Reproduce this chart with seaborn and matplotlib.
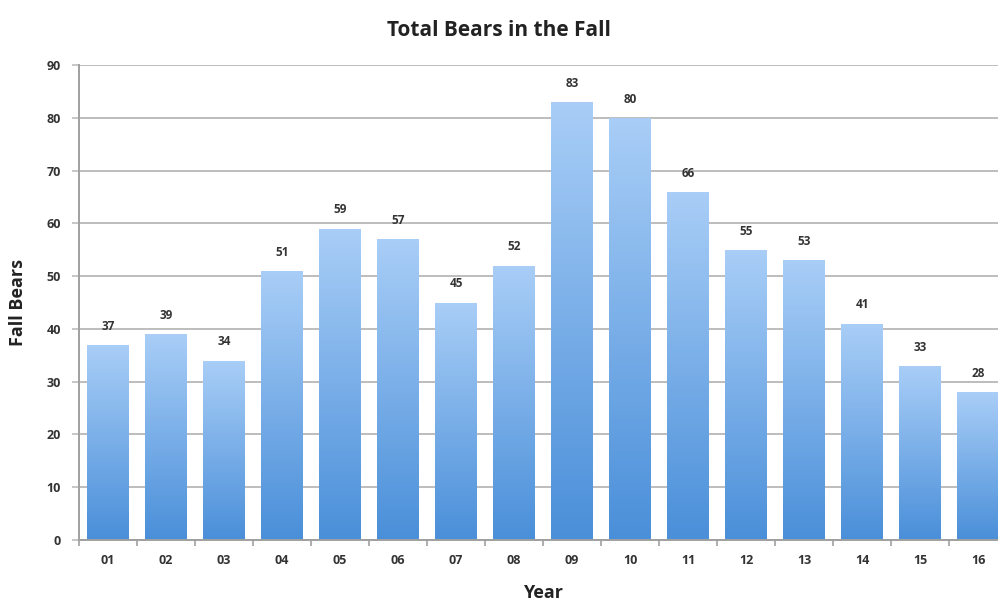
import numpy as np
import pandas as pd
import matplotlib
matplotlib.use("Agg")
import matplotlib.pyplot as plt
import seaborn as sns
from matplotlib.colors import LinearSegmentedColormap

years = ["01", "02", "03", "04", "05", "06", "07", "08",
         "09", "10", "11", "12", "13", "14", "15", "16"]
bears = [37, 39, 34, 51, 59, 57, 45, 52, 83, 80, 66, 55, 53, 41, 33, 28]
yticks = [0, 10, 20, 30, 40, 50, 60, 70, 80, 90]

sns.set_theme(style="white")
plt.rcParams['font.family'] = ['Open Sans', 'DejaVu Sans']

df = pd.DataFrame({"Year": years, "Fall Bears": bears})

fig = plt.figure(figsize=(9.98, 6.03), dpi=100)
ax = fig.add_axes([79/998, 63/603, 928/998, (540-65)/603])

sns.barplot(data=df, x="Year", y="Fall Bears", ax=ax, color="#6aa6e6",
            width=0.72, saturation=1, zorder=2)

ax.set_ylim(0, 90)
ax.set_xlim(-0.5, len(years) - 0.5)
ax.set_yticks(yticks)
ax.yaxis.grid(True, color="#bdbdbd", linewidth=1.4, zorder=0)
ax.set_axisbelow(True)

cmap = LinearSegmentedColormap.from_list("g", ["#4a8fd9", "#a9cef7"])
grad = np.linspace(0, 1, 256).reshape(-1, 1)
for p in list(ax.patches):
    x0, y0 = p.get_x(), p.get_y()
    w, h = p.get_width(), p.get_height()
    im = ax.imshow(grad, cmap=cmap, aspect="auto", origin="lower",
                   extent=[x0, x0 + w, 0, h], zorder=2.5)
    im.set_clip_path(p)
    p.set_facecolor("none")
    p.set_edgecolor("none")
    ax.text(x0 + w / 2, h + 2.3, str(int(round(h))), ha="center", va="bottom",
            fontsize=8.5, fontweight="bold", color="#333333")

for s in ["top", "right"]:
    ax.spines[s].set_visible(False)
ax.spines["left"].set_color("#a0a0a0")
ax.spines["left"].set_linewidth(1.4)
ax.spines["bottom"].set_color("#a0a0a0")
ax.spines["bottom"].set_linewidth(1.4)

ax.tick_params(axis="y", length=5, width=1.2, color="#bdbdbd", pad=8,
               labelsize=9, labelcolor="#333333", left=True)
ax.tick_params(axis="x", length=0, pad=10, labelsize=9, labelcolor="#333333")
for lab in ax.get_xticklabels() + ax.get_yticklabels():
    lab.set_fontweight("bold")
ax.set_xticks(np.arange(-0.5, len(years), 1.0), minor=True)
ax.tick_params(axis="x", which="minor", length=4, width=1.2, color="#a0a0a0",
               bottom=True)

ax.set_xlabel("Year", fontsize=13, fontweight="bold", color="#222222", labelpad=12)
ax.set_ylabel("Fall Bears", fontsize=13, fontweight="bold", color="#222222", labelpad=14)
fig.text(0.5, 1 - 30/603, "Total Bears in the Fall", ha="center", va="center",
         fontsize=15, fontweight="bold", color="#222222")

fig.savefig("out.png", dpi=100)
